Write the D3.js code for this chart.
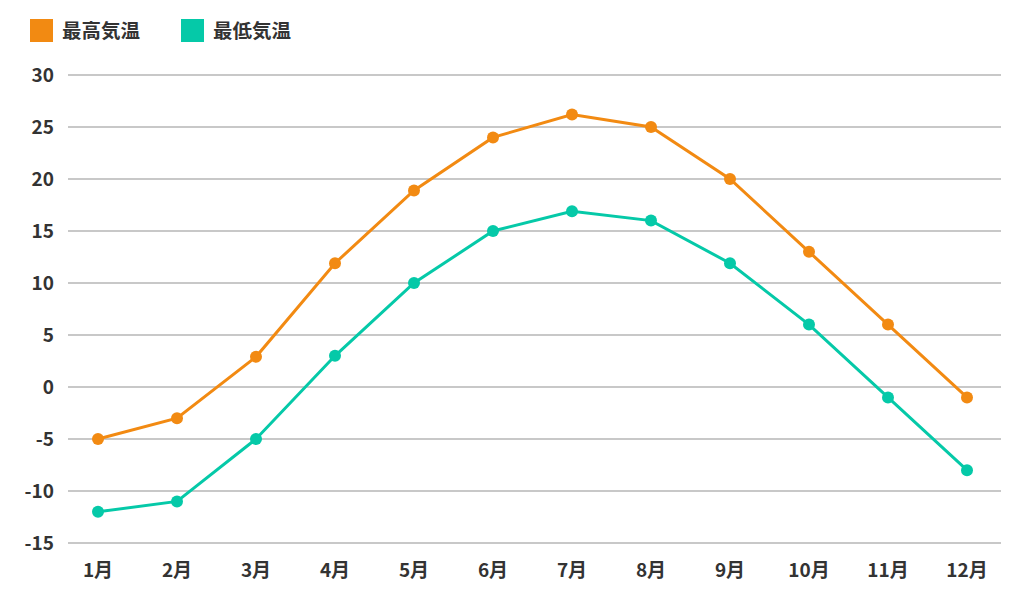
<!DOCTYPE html>
<html>
<head>
<meta charset="utf-8">
<script src="https://cdn.jsdelivr.net/npm/d3@7/dist/d3.min.js"></script>
<style>
  body { margin: 0; background: #fff; }
  text { font-family: "Noto Sans CJK JP", "Noto Sans", sans-serif; font-weight: 700; fill: #333; }
</style>
</head>
<body>
<div id="chart"></div>
<script>
var months = ['1月','2月','3月','4月','5月','6月','7月','8月','9月','10月','11月','12月'];
var maxTemp = [-5, -3, 2.9, 11.9, 18.9, 24, 26.2, 25, 20, 13, 6, -1];
var minTemp = [-12, -11, -5, 3, 10, 15, 16.9, 16, 11.9, 6, -1, -8];
var yTicks = [-15, -10, -5, 0, 5, 10, 15, 20, 25, 30];
var seriesNames = ['最高気温', '最低気温'];
var seriesColors = ['#f28a12', '#05c9a8'];

var width = 1032, height = 597;
var svg = d3.select('#chart').append('svg')
    .attr('width', width)
    .attr('height', height);

var x = d3.scalePoint()
    .domain(months)
    .range([98, 967]);

var y = d3.scaleLinear()
    .domain([-15, 30])
    .range([543, 75]);

// grid lines
svg.append('g').selectAll('line')
    .data(yTicks).enter()
    .append('line')
    .attr('x1', 68).attr('x2', 1001)
    .attr('y1', function(d){ return y(d); })
    .attr('y2', function(d){ return y(d); })
    .attr('stroke', '#c8c8c8')
    .attr('stroke-width', 2);

// y labels
svg.append('g').selectAll('text')
    .data(yTicks).enter()
    .append('text')
    .attr('x', 54)
    .attr('y', function(d){ return y(d); })
    .attr('dy', '0.35em')
    .attr('text-anchor', 'end')
    .attr('font-size', '19px')
    .text(function(d){ return d; });

// x labels
svg.append('g').selectAll('text')
    .data(months).enter()
    .append('text')
    .attr('x', function(d){ return x(d); })
    .attr('y', 577)
    .attr('text-anchor', 'middle')
    .attr('font-size', '19px')
    .text(function(d){ return d; });

var line = d3.line()
    .x(function(d, i){ return x(months[i]); })
    .y(function(d){ return y(d); });

[maxTemp, minTemp].forEach(function(series, s){
    var g = svg.append('g');
    g.append('path')
        .attr('d', line(series))
        .attr('fill', 'none')
        .attr('stroke', seriesColors[s])
        .attr('stroke-width', 3);
    g.selectAll('circle')
        .data(series).enter()
        .append('circle')
        .attr('cx', function(d, i){ return x(months[i]); })
        .attr('cy', function(d){ return y(d); })
        .attr('r', 6)
        .attr('fill', seriesColors[s]);
});

// legend
var legend = svg.append('g').selectAll('g')
    .data(seriesNames).enter()
    .append('g')
    .attr('transform', function(d, i){ return 'translate(' + (30 + i*151) + ',19)'; });
legend.append('rect')
    .attr('width', 23).attr('height', 23)
    .attr('fill', function(d, i){ return seriesColors[i]; });
legend.append('text')
    .attr('x', 32).attr('y', 12)
    .attr('dy', '0.35em')
    .attr('font-size', '19.5px')
    .text(function(d){ return d; });
</script>
</body>
</html>
